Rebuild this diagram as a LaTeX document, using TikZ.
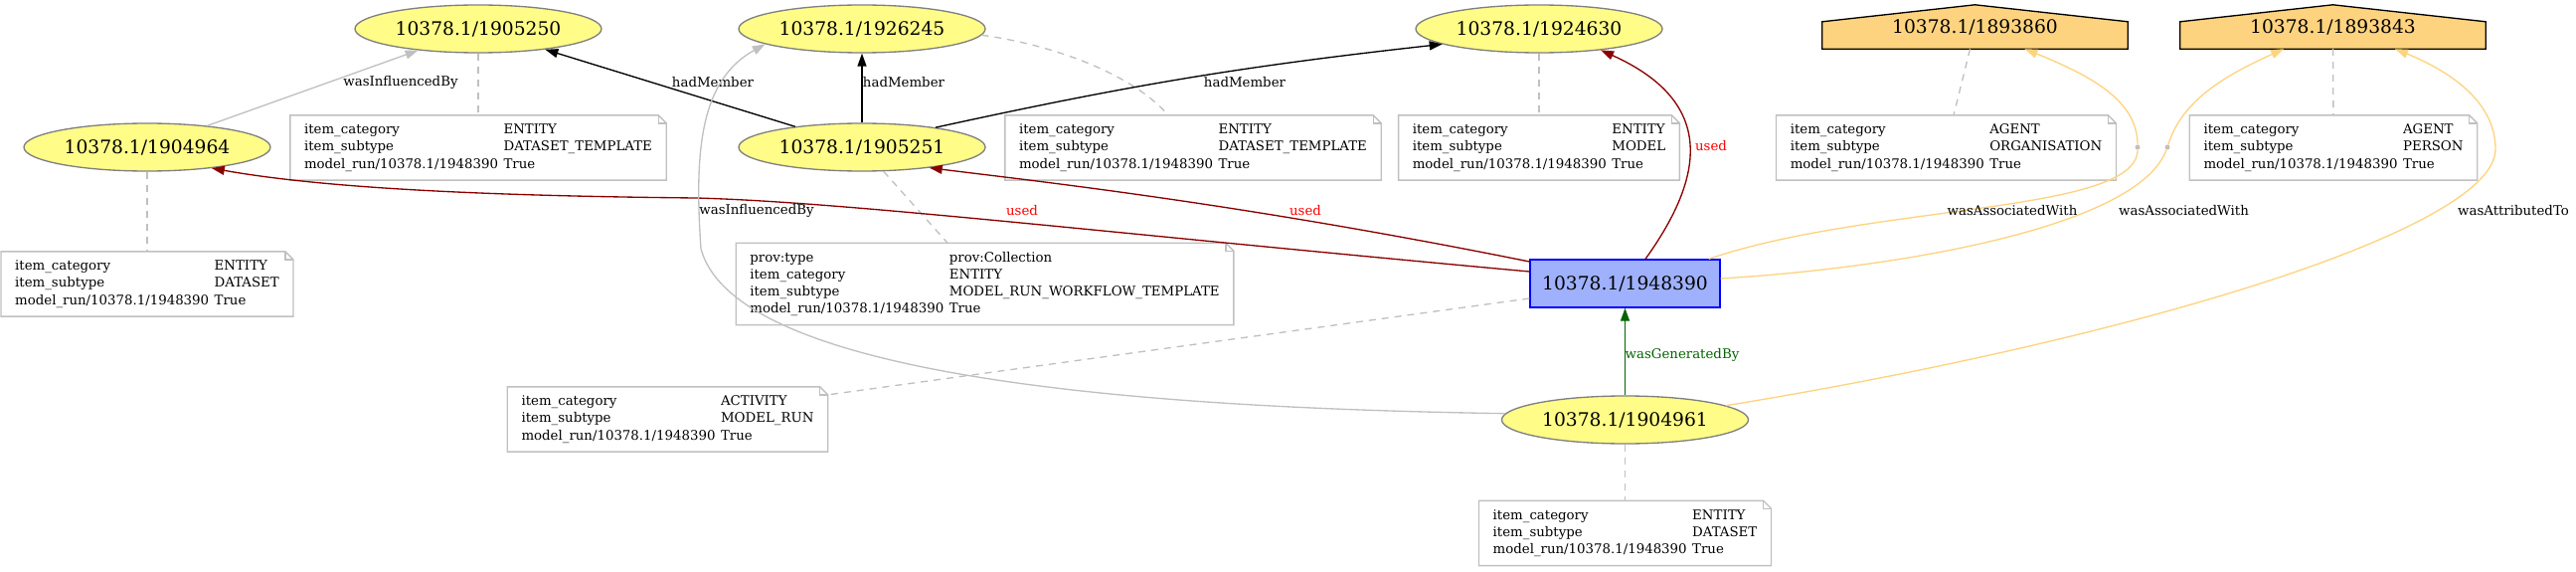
\documentclass[tikz,border=0pt]{standalone}
\usepackage{fontspec}
\setmainfont{DejaVu Serif}
\usepackage{xcolor}
\usepackage{tikz}
\usetikzlibrary{shapes,arrows.meta,positioning,backgrounds}

\definecolor{entfill}{HTML}{FFFC87}
\definecolor{entline}{HTML}{808080}
\definecolor{actfill}{HTML}{9FB1FC}
\definecolor{actline}{HTML}{0000FF}
\definecolor{agtfill}{HTML}{FED37F}
\definecolor{gvgray}{HTML}{C0C0C0}
\definecolor{gvdarkred}{HTML}{8B0000}
\definecolor{gvdarkgreen}{HTML}{006400}

\newcommand{\nodefont}{\fontsize{18.67pt}{22pt}\selectfont}
\newcommand{\notefont}{\fontsize{13.33pt}{17.3pt}\selectfont}
\newcommand{\annot}[1]{\begin{tabular}{@{}l@{\hspace{5.5pt}}l@{}}#1\end{tabular}}

\begin{document}
\begin{tikzpicture}[
    x=1pt, y=1pt,
    entity/.style={ellipse, draw=entline, fill=entfill, line width=1.33pt, minimum width=248pt, minimum height=48pt, inner sep=0pt, font=\nodefont},
    activity/.style={rectangle, draw=actline, fill=actfill, line width=1.33pt, minimum width=191pt, minimum height=48pt, inner sep=0pt, font=\nodefont},
    agent/.style={rectangle, minimum width=307pt, minimum height=44pt, inner sep=0pt, font=\nodefont},
    note/.style={rectangle, fill=white, inner xsep=14pt, inner ysep=6.5pt, font=\notefont},
    noteline/.style={draw=gvgray, line width=1.33pt},
    bnode/.style={circle, fill=gvgray, inner sep=0pt, minimum size=5pt},
    elabel/.style={inner sep=0pt, font=\notefont},
    arrow/.style={line width=1.33pt, -{Triangle[length=13pt,width=9pt]}},
    member/.style={arrow, draw=black},
    infl/.style={arrow, draw=gvgray},
    used/.style={arrow, draw=gvdarkred},
    gen/.style={arrow, draw=gvdarkgreen},
    assoc/.style={arrow, draw=agtfill},
    assocline/.style={line width=1.33pt, draw=agtfill},
    annotlink/.style={draw=gvgray, line width=1.33pt, dash pattern=on 7pt off 6pt}
]
\useasboundingbox (0,0) rectangle (2591,-575);

% entities, activity, agents
\node[entity] (e1905250) at (481,-29) {10378.1/1905250};
\node[entity] (e1926245) at (867,-29) {10378.1/1926245};
\node[entity] (e1924630) at (1548,-29) {10378.1/1924630};
\node[agent] (h1893860) at (1986.5,-27) {10378.1/1893860};
\node[agent] (h1893843) at (2346.5,-27) {10378.1/1893843};
\node[entity] (e1904964) at (148,-148) {10378.1/1904964};
\node[entity] (e1905251) at (867,-148) {10378.1/1905251};
\node[activity] (r1948390) at (1634.5,-285) {10378.1/1948390};
\node[entity] (e1904961) at (1634.5,-422) {10378.1/1904961};
\node[bnode] (p1) at (2150,-148) {};
\node[bnode] (p2) at (2180,-148) {};

\begin{scope}[on background layer]
\foreach \a in {h1893860,h1893843}
    \draw[fill=agtfill, line width=1.33pt] (\a.south west) -- (\a.south east) -- ([yshift=-17pt]\a.north east) -- (\a.north) -- ([yshift=-17pt]\a.north west) -- cycle;
\end{scope}

% annotations
\node[note] (n1) at (481,-148.5) {\annot{item\_category & ENTITY\\ item\_subtype & DATASET\_TEMPLATE\\ model\_run/10378.1/1948390 & True}};
\node[note] (n2) at (1200,-148.5) {\annot{item\_category & ENTITY\\ item\_subtype & DATASET\_TEMPLATE\\ model\_run/10378.1/1948390 & True}};
\node[note] (n3) at (1548,-148.5) {\annot{item\_category & ENTITY\\ item\_subtype & MODEL\\ model\_run/10378.1/1948390 & True}};
\node[note] (n4) at (1957.5,-148.5) {\annot{item\_category & AGENT\\ item\_subtype & ORGANISATION\\ model\_run/10378.1/1948390 & True}};
\node[note] (n5) at (2347,-148.5) {\annot{item\_category & AGENT\\ item\_subtype & PERSON\\ model\_run/10378.1/1948390 & True}};
\node[note] (n6) at (148,-285.5) {\annot{item\_category & ENTITY\\ item\_subtype & DATASET\\ model\_run/10378.1/1948390 & True}};
\node[note] (n7) at (990.5,-285.5) {\annot{prov:type & prov:Collection\\ item\_category & ENTITY\\ item\_subtype & MODEL\_RUN\_WORKFLOW\_TEMPLATE\\ model\_run/10378.1/1948390 & True}};
\node[note] (n8) at (671.5,-421.5) {\annot{item\_category & ACTIVITY\\ item\_subtype & MODEL\_RUN\\ model\_run/10378.1/1948390 & True}};
\node[note] (n9) at (1634.5,-536) {\annot{item\_category & ENTITY\\ item\_subtype & DATASET\\ model\_run/10378.1/1948390 & True}};

\foreach \n in {n1,n2,n3,n4,n5,n6,n7,n8,n9} {
    \draw[noteline] (\n.south west) -- (\n.south east) -- ([yshift=-8pt]\n.north east) -- ([xshift=-8pt]\n.north east) -- (\n.north west) -- cycle;
    \draw[noteline] ([xshift=-8pt]\n.north east) -- ([xshift=-8pt,yshift=-8pt]\n.north east) -- ([yshift=-8pt]\n.north east);
}

% annotation links
\draw[annotlink] (e1905250) -- (n1);
\draw[annotlink] (e1926245.-3) .. controls (1060,-45) and (1140,-75) .. ([xshift=-25pt]n2.north);
\draw[annotlink] (e1924630) -- (n3);
\draw[annotlink] ([xshift=-5pt]h1893860.south) -- ([xshift=7.5pt]n4.north);
\draw[annotlink] (h1893843) -- (n5);
\draw[annotlink] (e1904964) -- (n6);
\draw[annotlink] (e1905251) -- ([xshift=-37.5pt]n7.north);
\draw[annotlink] ([yshift=-15pt]r1948390.west) -- ([yshift=-8pt]n8.north east);
\draw[annotlink] (e1904961) -- (n9);

% relations
\draw[infl] (e1904964) -- (e1905250) node[elabel] at (403,-83) {wasInfluencedBy};
\draw[member] (e1905251) -- (e1905250) node[elabel] at (717,-83) {hadMember};
\draw[member] (e1905251) -- (e1926245) node[elabel] at (909,-83) {hadMember};
\draw[member] (e1905251.15) to[bend left=3] (e1924630.189) node[elabel] at (1252,-83) {hadMember};
\draw[used] ([xshift=20.5pt]r1948390.north) .. controls (1720,-170) and (1720,-100) .. (e1924630.-19)
    node[elabel, text=red] at (1721,-147) {used};
\draw[used] ([yshift=22pt]r1948390.west) .. controls (1250,-205) and (1050,-183) .. (e1905251.-17)
    node[elabel, text=red] at (1313,-212) {used};
\draw[used] ([yshift=12pt]r1948390.west) .. controls (1100,-233) and (850,-203) .. (700,-199)
    .. controls (500,-197) and (330,-190) .. (e1904964.-18)
    node[elabel, text=red] at (1028,-212) {used};
\draw[infl] (e1904961.177) .. controls (1150,-410) and (740,-380) .. (705,-250)
    .. controls (698,-150) and (705,-80) .. (e1926245.189)
    node[elabel] at (761,-212) {wasInfluencedBy};
\draw[gen] (e1904961) -- (r1948390) node[elabel, text=gvdarkgreen] at (1692,-357) {wasGeneratedBy};
\draw[assocline] ([xshift=-12pt]r1948390.north east) .. controls (1880,-205) and (2150,-215) .. (p1)
    node[elabel] at (2024,-212) {wasAssociatedWith};
\draw[assoc] (p1) .. controls (2150,-100) and (2100,-75) .. ([xshift=50pt]h1893860.south);
\draw[assocline] ([yshift=5pt]r1948390.east) .. controls (1900,-270) and (2150,-230) .. (p2)
    node[elabel] at (2196.5,-212) {wasAssociatedWith};
\draw[assoc] (p2) .. controls (2195,-100) and (2240,-75) .. ([xshift=-49.5pt]h1893843.south);
\draw[assoc] (e1904961.8) .. controls (2150,-340) and (2510,-230) .. (2510,-150)
    .. controls (2510,-100) and (2460,-70) .. ([xshift=62.5pt]h1893843.south)
    node[elabel] at (2528,-212) {wasAttributedTo};
\end{tikzpicture}
\end{document}
